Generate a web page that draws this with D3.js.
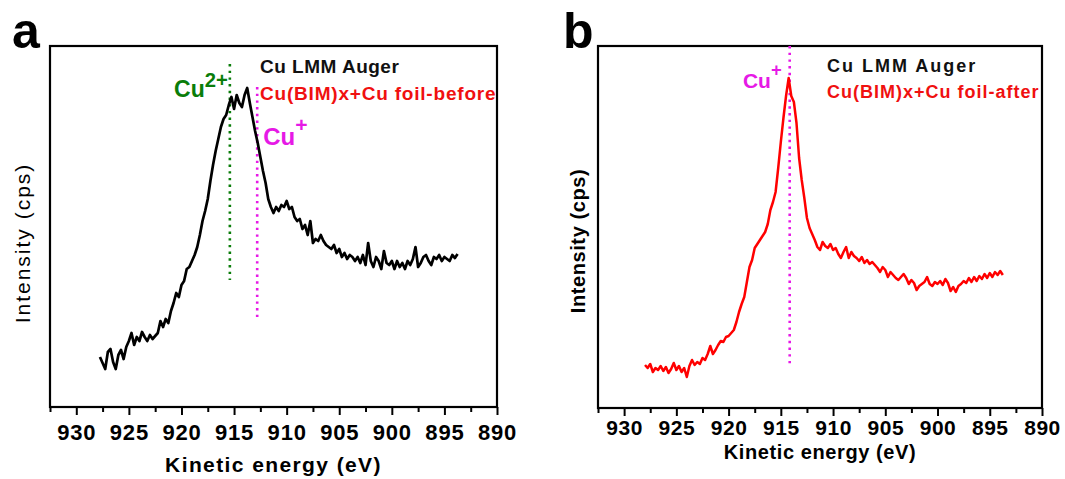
<!DOCTYPE html>
<html>
<head>
<meta charset="utf-8">
<script src="https://cdn.jsdelivr.net/npm/d3@7"></script>
<style>
  body { margin: 0; background: #fff; }
  svg { display: block; font-family: "Liberation Sans", Arial, sans-serif; }
</style>
</head>
<body>
<script>
// ---- data (intensity in arbitrary units) ----
// panel a: Cu(BIM)x + Cu foil, before; sampled every 0.25 eV from 927.75 eV down
const startA = 927.75;
const stepA = 0.25;
const intensityA = [
  50, 44, 38, 55, 58, 45, 38, 52, 57, 48, 60, 66, 74, 62, 70, 66, 75, 70, 66, 72,
  68, 71, 74, 86, 80, 88, 84, 96, 104, 114, 110, 122, 126, 138, 140, 146, 152, 160, 172, 186,
  196, 208, 226, 242, 256, 268, 280, 288, 292, 302, 310, 298, 312, 304, 300, 312, 319, 304, 290, 276,
  264, 250, 236, 224, 208, 200, 194, 200, 196, 202, 200, 206, 198, 200, 190, 186, 188, 178, 182, 172,
  186, 164, 168, 166, 172, 166, 162, 160, 158, 162, 154, 158, 150, 154, 148, 152, 150, 146, 150, 144,
  152, 142, 164, 146, 140, 150, 146, 138, 156, 144, 142, 146, 138, 146, 140, 144, 138, 146, 142, 148,
  160, 140, 144, 150, 152, 146, 142, 150, 148, 152, 146, 150, 148, 146, 152, 149, 153
];

// panel b: Cu(BIM)x + Cu foil, after; sampled every 0.25 eV from 928.0 eV down
const startB = 928.0;
const stepB = 0.25;
const intensityB = [
  43, 40, 44, 36, 40, 38, 42, 37, 41, 35, 39, 45, 38, 42, 36, 40, 31, 42, 48, 43,
  46, 44, 50, 48, 54, 62, 54, 58, 63, 67, 66, 71, 72, 75, 78, 86, 96, 104, 111, 126,
  141, 148, 160, 164, 168, 172, 176, 184, 198, 206, 216, 240, 266, 290, 312, 330, 312, 306, 285, 250,
  228, 210, 190, 180, 174, 168, 161, 158, 166, 162, 160, 164, 158, 160, 154, 150, 156, 161, 150, 156,
  152, 150, 147, 151, 145, 148, 144, 146, 143, 140, 136, 141, 138, 131, 136, 133, 130, 128, 131, 134,
  130, 124, 128, 125, 118, 122, 124, 126, 131, 124, 122, 126, 124, 127, 123, 129, 125, 117, 121, 116,
  122, 124, 127, 125, 130, 126, 131, 127, 132, 129, 134, 130, 135, 131, 136, 133, 137, 133
];

// reference (dotted) lines: energy and the intensity span they cover
const markersA = [
  { name: 'Cu2+', energy: 915.4, from: 127, to: 343, color: '#0a7d0a' },
  { name: 'Cu+', energy: 912.8, from: 90, to: 320, color: '#e619e6' }
];
const markersB = [
  { name: 'Cu+', energy: 914.15, from: 43, to: 362, color: '#e619e6' }
];

const xTicks = [930, 925, 920, 915, 910, 905, 900, 895, 890];
const xMinorTicks = [932.5, 927.5, 922.5, 917.5, 912.5, 907.5, 902.5, 897.5, 892.5];
const xDomain = [932.5, 890];

const W = 1065, H = 479;

const svg = d3.select('body')
  .append('svg')
  .attr('width', W)
  .attr('height', H);

svg.append('rect').attr('width', W).attr('height', H).attr('fill', '#fff');

function toPoints(start, step, values) {
  return values.map((v, i) => ({ e: start - i * step, v: v }));
}

function drawPanel(opt) {
  const x = d3.scaleLinear().domain(xDomain).range([opt.left, opt.right]);
  const y = d3.scaleLinear().domain([0, opt.bottom - opt.top]).range([opt.bottom, opt.top]);

  const g = svg.append('g');

  // minor ticks
  g.append('g')
    .attr('transform', 'translate(0,' + opt.bottom + ')')
    .call(d3.axisBottom(x).tickValues(xMinorTicks).tickSize(5).tickFormat(''))
    .call(a => a.select('.domain').remove())
    .call(a => a.selectAll('line').attr('stroke', '#000').attr('stroke-width', 2));

  // major ticks + labels
  g.append('g')
    .attr('transform', 'translate(0,' + opt.bottom + ')')
    .call(d3.axisBottom(x).tickValues(xTicks).tickSize(8).tickPadding(opt.tickPad))
    .call(a => a.select('.domain').remove())
    .call(a => a.selectAll('line').attr('stroke', '#000').attr('stroke-width', 2))
    .call(a => a.selectAll('text')
      .attr('fill', '#000')
      .attr('font-size', opt.tickFont)
      .attr('font-weight', 'bold')
      .attr('letter-spacing', opt.tickSpacing)
      .attr('font-family', '"Liberation Sans", Arial, sans-serif'));

  // frame
  g.append('rect')
    .attr('x', opt.left)
    .attr('y', opt.top)
    .attr('width', opt.right - opt.left)
    .attr('height', opt.bottom - opt.top)
    .attr('fill', 'none')
    .attr('stroke', '#000')
    .attr('stroke-width', 2.2);

  // dotted reference lines
  opt.markers.forEach(m => {
    g.append('line')
      .attr('x1', x(m.energy)).attr('x2', x(m.energy))
      .attr('y1', y(m.to)).attr('y2', y(m.from))
      .attr('stroke', m.color)
      .attr('stroke-width', 2.6)
      .attr('stroke-dasharray', '2.4,4.3');
  });

  // spectrum
  const line = d3.line().x(d => x(d.e)).y(d => y(d.v));
  g.append('path')
    .datum(opt.points)
    .attr('d', line)
    .attr('fill', 'none')
    .attr('stroke', opt.color)
    .attr('stroke-width', opt.lineWidth)
    .attr('stroke-linejoin', 'round');

  // axis titles
  g.append('text')
    .attr('x', (opt.left + opt.right) / 2)
    .attr('y', opt.xTitleY)
    .attr('text-anchor', 'middle')
    .attr('font-size', opt.titleFont)
    .attr('font-weight', 'bold')
    .attr('letter-spacing', opt.xTitleSpacing)
    .text('Kinetic energy (eV)');

  g.append('text')
    .attr('transform', 'translate(' + opt.yTitleX + ',' + opt.yTitleY + ') rotate(-90)')
    .attr('text-anchor', 'middle')
    .attr('font-size', opt.yTitleFont)
    .attr('font-weight', opt.yTitleWeight)
    .attr('letter-spacing', opt.yTitleSpacing)
    .text('Intensity (cps)');

  // panel letter
  g.append('text')
    .attr('x', opt.letterX)
    .attr('y', 48)
    .attr('font-size', 50)
    .attr('font-weight', 'bold')
    .text(opt.letter);

  // legend-like labels
  g.append('text')
    .attr('x', opt.left + opt.legendDx)
    .attr('y', opt.legendY1)
    .attr('font-size', opt.legendFont)
    .attr('font-weight', 'bold')
    .attr('letter-spacing', opt.legendSpacing1)
    .attr('fill', '#111')
    .text('Cu LMM Auger');

  g.append('text')
    .attr('x', opt.left + opt.legendDx)
    .attr('y', opt.legendY2)
    .attr('font-size', opt.legendFont)
    .attr('font-weight', 'bold')
    .attr('letter-spacing', opt.legendSpacing2)
    .attr('fill', '#f01010')
    .text(opt.sample);

  return { x: x, y: y, g: g };
}

function ionLabel(g, px, py, anchor, color, size, base, sup, supRaise) {
  const t = g.append('text')
    .attr('x', px)
    .attr('y', py)
    .attr('text-anchor', anchor)
    .attr('font-weight', 'bold')
    .attr('fill', color)
    .attr('font-size', size);
  t.append('tspan').text(base);
  t.append('tspan')
    .attr('dy', -supRaise)
    .attr('font-size', size * 0.88)
    .text(sup);
}

// ---- panel a ----
const pa = drawPanel({
  left: 50, right: 497, top: 46, bottom: 407,
  points: toPoints(startA, stepA, intensityA),
  color: '#000',
  lineWidth: 2.7,
  markers: markersA,
  tickPad: 9, tickFont: 22, tickSpacing: 0.8,
  titleFont: 21, xTitleY: 472, xTitleSpacing: 1.4,
  yTitleX: 30, yTitleY: 243, yTitleFont: 21, yTitleWeight: 'normal', yTitleSpacing: 2,
  letter: 'a', letterX: 12,
  legendDx: 210, legendY1: 73, legendY2: 100, legendFont: 19,
  legendSpacing1: 0.5, legendSpacing2: 0.8,
  sample: 'Cu(BIM)x+Cu foil-before'
});
ionLabel(pa.g, pa.x(markersA[0].energy) - 2, 97, 'end', markersA[0].color, 23, 'Cu', '2+', 10);
ionLabel(pa.g, pa.x(markersA[1].energy) + 6, 145, 'start', markersA[1].color, 24, 'Cu', '+', 13);

// ---- panel b ----
const pb = drawPanel({
  left: 598, right: 1042, top: 46, bottom: 408,
  points: toPoints(startB, stepB, intensityB),
  color: '#ff0000',
  lineWidth: 2.5,
  markers: markersB,
  tickPad: 4, tickFont: 21, tickSpacing: 0.5,
  titleFont: 20, xTitleY: 459, xTitleSpacing: 0.6,
  yTitleX: 585, yTitleY: 241, yTitleFont: 20, yTitleWeight: 'bold', yTitleSpacing: 0.6,
  letter: 'b', letterX: 563,
  legendDx: 229, legendY1: 72, legendY2: 98, legendFont: 18,
  legendSpacing1: 2, legendSpacing2: 1,
  sample: 'Cu(BIM)x+Cu foil-after'
});
ionLabel(pb.g, pb.x(markersB[0].energy) - 8, 88, 'end', markersB[0].color, 21, 'Cu', '+', 12);
</script>
</body>
</html>
